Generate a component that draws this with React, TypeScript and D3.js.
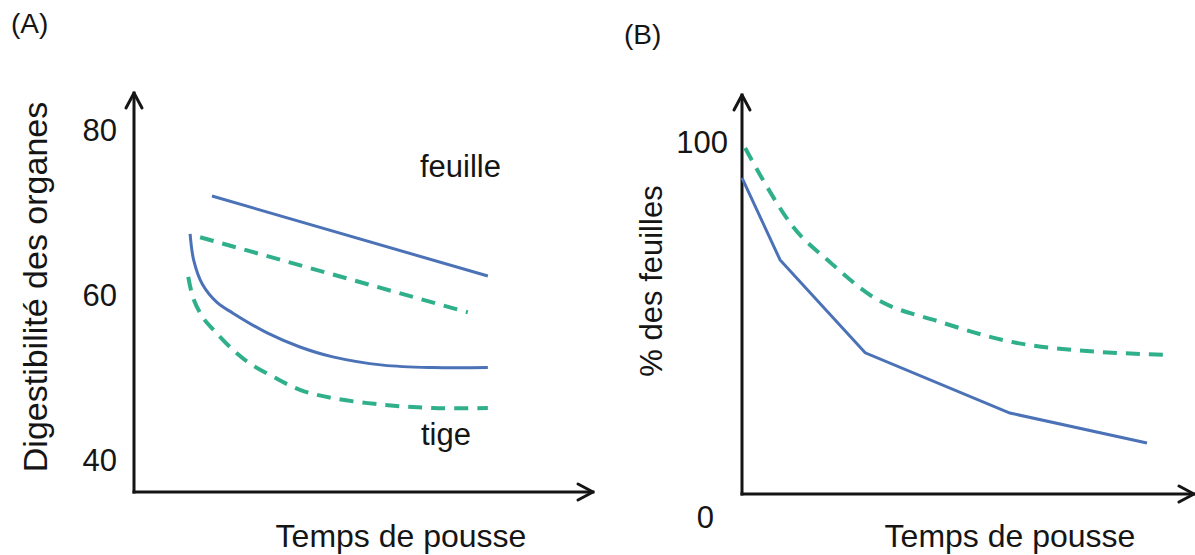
import React from "react";
import * as d3 from "d3";

// Panel A: Digestibilité des organes vs Temps de pousse
const ticksA = [40, 60, 80];
const feuilleSolid: [number, number][] = [[17.1, 72.0], [77.6, 62.3]];
const feuilleDashed: [number, number][] = [[14.5, 67.0], [73.2, 57.9]];
const tigeSolid: [number, number][] = [
  [12.3, 67.4], [13.1, 64.2], [15.0, 61.3], [18.2, 59.1], [21.7, 57.8], [29.2, 55.4],
  [36.4, 53.7], [43.6, 52.5], [54.6, 51.5], [65.6, 51.2], [77.6, 51.2],
];
const tigeDashed: [number, number][] = [
  [11.9, 62.2], [13.0, 59.6], [15.2, 57.2], [17.4, 55.8], [21.8, 53.3], [25.4, 51.7],
  [30.5, 50.1], [36.4, 48.5], [43.6, 47.5], [54.6, 46.7], [65.6, 46.3], [77.6, 46.3],
];

// Panel B: % des feuilles vs Temps de pousse
const ticksB = [0, 100];
const leavesSolid: [number, number][] = [
  [0, 89.8], [8.5, 66.5], [27.5, 40.1], [59.8, 23.0], [90.4, 14.5],
];
const leavesDashed: [number, number][] = [
  [0.7, 98.3], [4.7, 89.2], [11.4, 75.9], [19.6, 65.9], [29.2, 56.0],
  [44.2, 48.9], [64.3, 42.3], [94.9, 39.5],
];

const BLUE = "#4b72b6";
const GREEN = "#2fb08b";
const INK = "#151515";
const FONT = "'Liberation Sans', Arial, Helvetica, sans-serif";

function Arrow({ x1, y1, x2, y2 }: { x1: number; y1: number; x2: number; y2: number }) {
  const ang = Math.atan2(y2 - y1, x2 - x1);
  const L = 15, W = 8;
  const bx = x2 - L * Math.cos(ang), by = y2 - L * Math.sin(ang);
  const px = -Math.sin(ang) * W, py = Math.cos(ang) * W;
  return (
    <g stroke={INK} strokeWidth={3} fill="none" strokeLinecap="round" strokeLinejoin="round">
      <line x1={x1} y1={y1} x2={x2} y2={y2} strokeLinecap="square" />
      <polyline points={`${bx + px},${by + py} ${x2},${y2} ${bx - px},${by - py}`} />
    </g>
  );
}

export default function App() {
  // Panel A scales
  const xA = d3.scaleLinear().domain([0, 100]).range([134, 590]);
  const yA = d3.scaleLinear().domain([40, 80]).range([460, 130]);
  const lineA = d3.line<[number, number]>().x(d => xA(d[0])).y(d => yA(d[1]));
  const curveA = d3.line<[number, number]>().x(d => xA(d[0])).y(d => yA(d[1])).curve(d3.curveCatmullRom.alpha(0.5));

  // Panel B scales
  const xB = d3.scaleLinear().domain([0, 100]).range([742, 1190]);
  const yB = d3.scaleLinear().domain([0, 100]).range([494, 142]);
  const lineB = d3.line<[number, number]>().x(d => xB(d[0])).y(d => yB(d[1]));
  const curveB = d3.line<[number, number]>().x(d => xB(d[0])).y(d => yB(d[1])).curve(d3.curveMonotoneX);

  const axA = { x0: 134, y0: 492 };
  const axB = { x0: 742, y0: 494 };

  return (
    <svg width={1195} height={555} style={{ position: "absolute", left: 0, top: 0, background: "#fff" }}
      fontFamily={FONT}>
      {/* Panel A */}
      <text x={11} y={33} fontSize={28} fill={INK}>(A)</text>
      <Arrow x1={axA.x0} y1={axA.y0} x2={axA.x0} y2={93} />
      <Arrow x1={axA.x0} y1={axA.y0} x2={593} y2={axA.y0} />
      {ticksA.map(t => (
        <text key={t} x={117} y={yA(t)} fontSize={31} fill={INK} textAnchor="end" dominantBaseline="central">{t}</text>
      ))}
      <text transform={`translate(47,${287}) rotate(-90)`} fontSize={34} fill={INK} textAnchor="middle">
        Digestibilité des organes
      </text>
      <text x={401} y={547} fontSize={32} fill={INK} textAnchor="middle">Temps de pousse</text>
      <path d={lineA(feuilleSolid) || ""} fill="none" stroke={BLUE} strokeWidth={3} />
      <path d={lineA(feuilleDashed) || ""} fill="none" stroke={GREEN} strokeWidth={4} strokeDasharray="14,9" />
      <path d={curveA(tigeSolid) || ""} fill="none" stroke={BLUE} strokeWidth={3} />
      <path d={curveA(tigeDashed) || ""} fill="none" stroke={GREEN} strokeWidth={4} strokeDasharray="14,9" />
      <text x={420} y={177} fontSize={31} fill={INK}>feuille</text>
      <text x={421} y={445} fontSize={31} fill={INK}>tige</text>

      {/* Panel B */}
      <text x={624} y={44} fontSize={28} fill={INK}>(B)</text>
      <Arrow x1={axB.x0} y1={axB.y0} x2={axB.x0} y2={95} />
      <Arrow x1={axB.x0} y1={axB.y0} x2={1194} y2={axB.y0} />
      {ticksB.map(t => (
        <text key={t} x={t === 0 ? 714 : 728} y={t === 0 ? yB(t) + 23 : yB(t)} fontSize={31} fill={INK}
          textAnchor="end" dominantBaseline="central">{t}</text>
      ))}
      <text transform={`translate(662,${281}) rotate(-90)`} fontSize={31} fill={INK} textAnchor="middle">
        % des feuilles
      </text>
      <text x={1010} y={547} fontSize={32} fill={INK} textAnchor="middle">Temps de pousse</text>
      <path d={curveB(leavesDashed) || ""} fill="none" stroke={GREEN} strokeWidth={4} strokeDasharray="14,9" />
      <path d={lineB(leavesSolid) || ""} fill="none" stroke={BLUE} strokeWidth={3} />
    </svg>
  );
}
